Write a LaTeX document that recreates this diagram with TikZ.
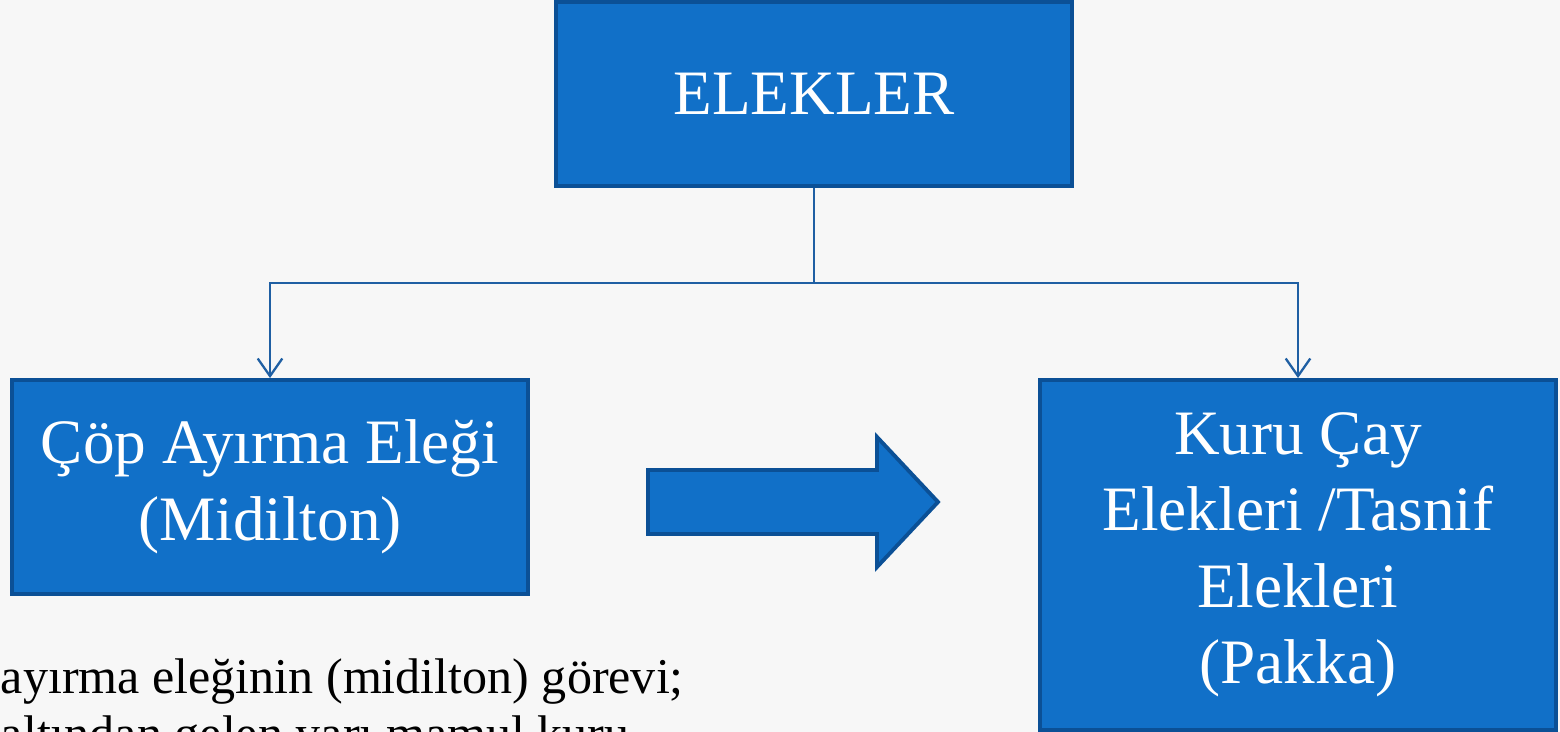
\documentclass[tikz,border=0pt]{standalone}
\usepackage{fontspec}
\setmainfont{Liberation Serif}
\usepackage{xcolor}
\usetikzlibrary{arrows.meta}

\definecolor{boxblue}{HTML}{1170C8}
\definecolor{edgeblue}{HTML}{0B5096}
\definecolor{lineblue}{HTML}{1F5FA3}
\definecolor{paper}{HTML}{F7F7F7}

\begin{document}
\begin{tikzpicture}[
  box/.style={draw=edgeblue, line width=2.2pt, fill=boxblue, text=white, align=center,
    minimum width=10.32cm, inner sep=0pt, font=\fontsize{36}{43.5}\selectfont},
  link/.style={draw=lineblue, line width=1.3pt},
  arrow/.style={link, -{Straight Barb[length=10pt, width=14pt]}}
]
\fill[paper] (0,0) rectangle (31.2,-14.64);
\clip (0,0) rectangle (31.2,-14.64);

\node[box, minimum height=3.68cm] (elek) at (16.28,-1.88) {ELEKLER};
\node[box, minimum height=4.28cm] (midil) at (5.40,-9.74) {Çöp Ayırma Eleği\\(Midilton)};
\node[box, minimum height=7.0cm] (pakka) at (25.96,-11.10) {Kuru Çay\\Elekleri /Tasnif\\Elekleri\\(Pakka)};

% block arrow between the two sieves
\draw[edgeblue, line width=2.2pt, fill=boxblue, line join=miter]
  (12.96,-9.40) -- (17.54,-9.40) -- (17.54,-8.74) -- (18.76,-10.04)
  -- (17.54,-11.34) -- (17.54,-10.68) -- (12.96,-10.68) -- cycle;

\node[anchor=base west, inner sep=0pt, align=left, font=\fontsize{28.5}{32.3}\selectfont]
  (gorev) at (0.01,-15.0) {ayırma eleğinin (midilton) görevi;\\altından gelen yarı mamul kuru};

\coordinate (ayrim) at (16.28,-5.66);
\draw[link] (elek.south) -- (ayrim);
\draw[arrow] (ayrim) -| (midil.north);
\draw[arrow] (ayrim) -| (pakka.north);
\end{tikzpicture}
\end{document}
